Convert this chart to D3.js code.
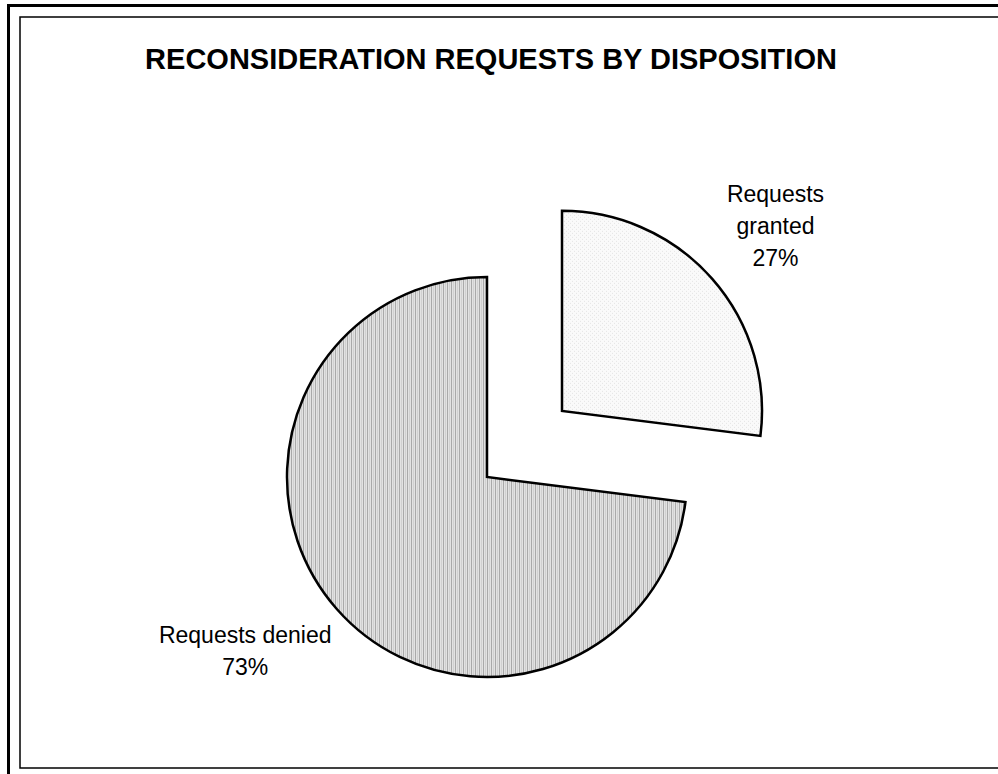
<!DOCTYPE html>
<html>
<head>
<meta charset="utf-8">
<script src="https://cdn.jsdelivr.net/npm/d3@7"></script>
<style>
  html, body { margin: 0; padding: 0; background: #fff; }
  svg { display: block; font-family: Arial, "Liberation Sans", sans-serif; }
</style>
</head>
<body>
<svg id="chart" width="998" height="774"></svg>
<script>
// data
var categories = ["Requests granted", "Requests denied"],
    labelLines = [["Requests", "granted"], ["Requests denied"]],
    values = [27, 73],
    title = "RECONSIDERATION REQUESTS BY DISPOSITION";

var svg = d3.select("#chart"),
    cx = 487, cy = 477,
    radius = 200,
    explode = [100, 0],
    labelGap = 36,
    fontSize = 23,
    lineH = 32;

var defs = svg.append("defs");

// vertical stripe fill for the denied slice
var p1 = defs.append("pattern")
    .attr("id", "stripes")
    .attr("patternUnits", "userSpaceOnUse")
    .attr("width", 4).attr("height", 4);
p1.append("rect").attr("width", 4).attr("height", 4).attr("fill", "#e2e2e2");
p1.append("rect").attr("x", 0).attr("width", 1).attr("height", 4).attr("fill", "#a9a9a9");
p1.append("rect").attr("x", 2).attr("width", 1).attr("height", 4).attr("fill", "#d0d0d0");

// fine dotted fill for the granted slice
var p2 = defs.append("pattern")
    .attr("id", "dots")
    .attr("patternUnits", "userSpaceOnUse")
    .attr("width", 4).attr("height", 4);
p2.append("rect").attr("width", 4).attr("height", 4).attr("fill", "#fafafa");
p2.append("rect").attr("x", 0).attr("y", 0).attr("width", 1).attr("height", 1).attr("fill", "#e4e4e4");
p2.append("rect").attr("x", 2).attr("y", 2).attr("width", 1).attr("height", 1).attr("fill", "#e4e4e4");

var fills = ["url(#dots)", "url(#stripes)"];

// frames
svg.append("rect")
    .attr("x", 8.5).attr("y", 5.5)
    .attr("width", 1000).attr("height", 800)
    .attr("fill", "none").attr("stroke", "#000").attr("stroke-width", 3);
svg.append("rect")
    .attr("x", 20).attr("y", 17)
    .attr("width", 1000).attr("height", 751)
    .attr("fill", "none").attr("stroke", "#000").attr("stroke-width", 1.5);

svg.append("text")
    .attr("x", 491).attr("y", 69)
    .attr("text-anchor", "middle")
    .attr("font-weight", "bold")
    .attr("font-size", 29)
    .text(title);

var pie = d3.pie().sort(null).startAngle(0).endAngle(2 * Math.PI);
var arcs = pie(values);

var arc = d3.arc().innerRadius(0).outerRadius(radius);

var g = svg.append("g").attr("transform", "translate(" + cx + "," + cy + ")");

function dir(d) {
  var a = (d.startAngle + d.endAngle) / 2;
  return [Math.sin(a), -Math.cos(a)];
}

var slice = g.selectAll("g.slice")
  .data(arcs)
  .enter().append("g")
    .attr("class", "slice")
    .attr("transform", function(d, i) {
      var v = dir(d);
      return "translate(" + (v[0] * explode[i]) + "," + (v[1] * explode[i]) + ")";
    });

slice.append("path")
    .attr("d", arc)
    .attr("fill", function(d, i) { return fills[i]; })
    .attr("stroke", "#000")
    .attr("stroke-width", 2.5)
    .attr("stroke-linejoin", "miter");

slice.append("text")
    .attr("text-anchor", "middle")
    .attr("font-size", fontSize)
    .each(function(d, i) {
      var lines = labelLines[i].concat([d.data + "%"]);
      var t = d3.select(this);
      var y0 = -(lines.length - 1) * lineH / 2 + fontSize * 0.716 / 2;
      lines.forEach(function(s, k) {
        t.append("tspan").attr("x", 0).attr("y", y0 + k * lineH).text(s);
      });
      // place the label box just outside the slice, along its mid-angle
      var w = 0;
      t.selectAll("tspan").each(function() { w = Math.max(w, this.getComputedTextLength()); });
      var h = (lines.length - 1) * lineH + fontSize;
      var v = dir(d), rr = radius + labelGap;
      t.attr("transform", "translate(" + (v[0] * rr + v[0] * w / 2) + "," + (v[1] * rr + v[1] * h / 2) + ")");
    });
</script>
</body>
</html>
